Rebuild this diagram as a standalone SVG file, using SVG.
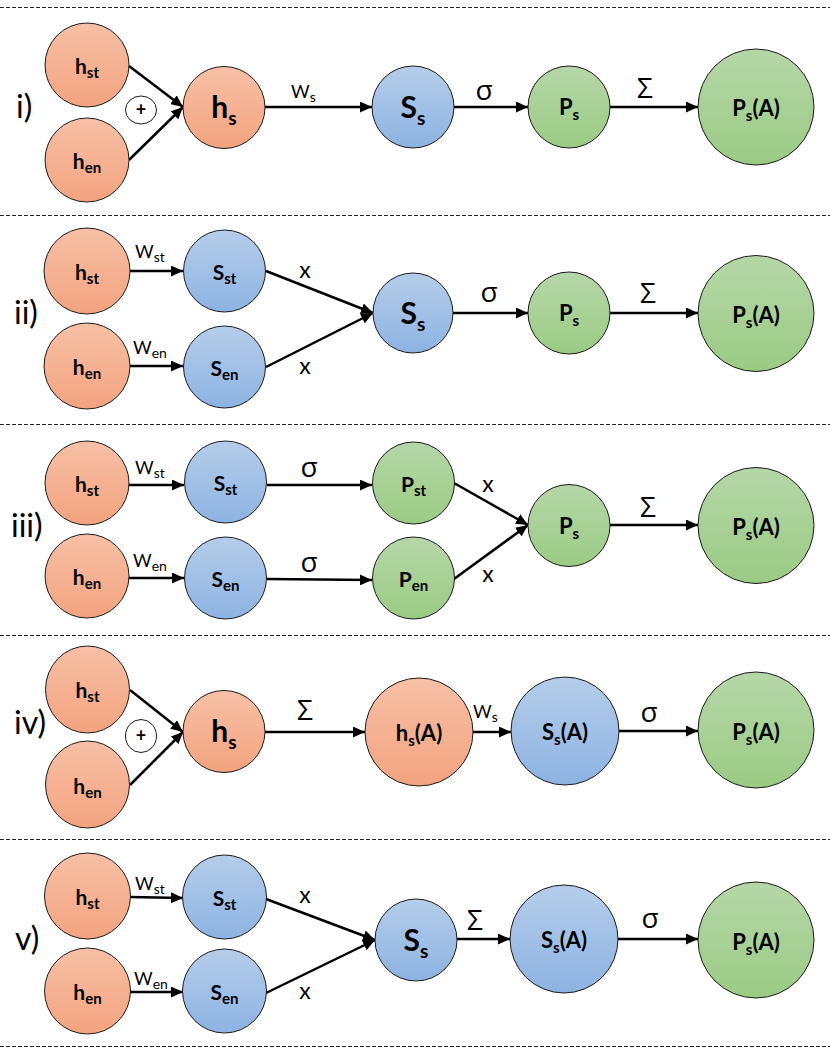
<svg xmlns="http://www.w3.org/2000/svg" width="830" height="1054" viewBox="0 0 830 1054">
<defs>
<linearGradient id="gO" x1="0" y1="0" x2="0" y2="1"><stop offset="0" stop-color="#F7C0A6"/><stop offset="1" stop-color="#F3A37F"/></linearGradient>
<linearGradient id="gB" x1="0" y1="0" x2="0" y2="1"><stop offset="0" stop-color="#B5CDEA"/><stop offset="1" stop-color="#8DB3E2"/></linearGradient>
<linearGradient id="gG" x1="0" y1="0" x2="0" y2="1"><stop offset="0" stop-color="#B6D7A8"/><stop offset="1" stop-color="#9ACB84"/></linearGradient>
<marker id="ah" markerWidth="12" markerHeight="11" refX="12" refY="5.5" orient="auto" markerUnits="userSpaceOnUse"><path d="M0,0 L12,5.5 L0,11 z" fill="#000"/></marker>
<style>
.o{fill:url(#gO);stroke:#1a1a1a;stroke-width:1}
.b{fill:url(#gB);stroke:#1a1a1a;stroke-width:1}
.g{fill:url(#gG);stroke:#1a1a1a;stroke-width:1}
.pc{fill:#fff;stroke:#1a1a1a;stroke-width:1}
.n{font-family:Lato,"Open Sans","DejaVu Sans",sans-serif;font-weight:bold;font-size:21px;fill:#000;text-anchor:middle}
.nb{font-family:Lato,"Open Sans","DejaVu Sans",sans-serif;font-weight:bold;font-size:30px;fill:#000;text-anchor:middle}
.na{font-family:Lato,"Open Sans","DejaVu Sans",sans-serif;font-weight:bold;font-size:22px;fill:#000;text-anchor:middle}
.s14{font-size:15px}
.s19{font-size:19px}
.e{font-family:Lato,"Open Sans","DejaVu Sans",sans-serif;font-size:18px;fill:#000}
.es{font-size:14px}
.gr{font-family:"Open Sans","DejaVu Sans",sans-serif;font-size:28px;fill:#000;text-anchor:middle}
.x{font-family:Lato,"Open Sans",sans-serif;font-size:23px;fill:#000;text-anchor:middle}
.sec{font-family:Lato,"Open Sans",sans-serif;font-size:32px;fill:#000}
.pl{font-family:Lato,"Open Sans",sans-serif;font-weight:bold;font-size:18px;fill:#000;text-anchor:middle}
.c line{stroke:#000;stroke-width:2.5;marker-end:url(#ah)}
.d{stroke:#222;stroke-width:1;stroke-dasharray:4,2}
</style>
</defs>
<rect width="830" height="1054" fill="#fff"/>

<g id="separators">
<line class="d" x1="0" y1="7.5" x2="830" y2="7.5"/>
<line class="d" x1="0" y1="215.5" x2="830" y2="215.5"/>
<line class="d" x1="0" y1="424.5" x2="830" y2="424.5"/>
<line class="d" x1="0" y1="635.5" x2="830" y2="635.5"/>
<line class="d" x1="0" y1="839.5" x2="830" y2="839.5"/>
<line class="d" x1="0" y1="1046.5" x2="830" y2="1046.5"/>
</g>

<g id="section-labels">
<text class="sec" x="16" y="118">i)</text>
<text class="sec" x="14" y="324">ii)</text>
<text class="sec" x="11" y="537">iii)</text>
<text class="sec" x="14" y="734">iv)</text>
<text class="sec" x="15" y="950">v)</text>
</g>

<g class="c" id="connectors">
<line x1="129" y1="66" x2="183" y2="107"/>
<line x1="129" y1="160" x2="183" y2="107"/>
<line x1="265" y1="107" x2="372" y2="107"/>
<line x1="454" y1="107" x2="528" y2="107"/>
<line x1="610" y1="107" x2="698" y2="107"/>

<line x1="130" y1="271" x2="183" y2="271"/>
<line x1="130" y1="366" x2="183" y2="366"/>
<line x1="266" y1="271" x2="373" y2="313"/>
<line x1="266" y1="367" x2="373" y2="313"/>
<line x1="453" y1="313" x2="528" y2="313"/>
<line x1="610" y1="313" x2="698" y2="313"/>

<line x1="129" y1="485" x2="184" y2="485"/>
<line x1="129" y1="578" x2="184" y2="578"/>
<line x1="267" y1="485" x2="372" y2="485"/>
<line x1="267" y1="579" x2="372" y2="580"/>
<line x1="454" y1="483" x2="528" y2="525"/>
<line x1="454" y1="579" x2="528" y2="525"/>
<line x1="610" y1="525" x2="698" y2="525"/>

<line x1="130" y1="690" x2="183" y2="732"/>
<line x1="130" y1="785" x2="183" y2="732"/>
<line x1="265" y1="732" x2="365" y2="732"/>
<line x1="473" y1="732" x2="511" y2="732"/>
<line x1="619" y1="731" x2="698" y2="731"/>

<line x1="130" y1="897" x2="183" y2="898"/>
<line x1="130" y1="992" x2="183" y2="992"/>
<line x1="266" y1="899" x2="375" y2="940"/>
<line x1="266" y1="993" x2="375" y2="940"/>
<line x1="457" y1="939" x2="510" y2="939"/>
<line x1="618" y1="939" x2="698" y2="939"/>
</g>

<g id="edge-labels">
<text class="e" x="291" y="98">W<tspan class="es" dy="4">s</tspan></text>
<text class="gr" x="484" y="100">σ</text>
<text class="gr" x="645" y="98">Σ</text>

<text class="e" x="135" y="258">W<tspan class="es" dy="4">st</tspan></text>
<text class="e" x="133" y="354">W<tspan class="es" dy="4">en</tspan></text>
<text class="x" x="305" y="278">x</text>
<text class="x" x="305" y="374">x</text>
<text class="gr" x="489" y="302">σ</text>
<text class="gr" x="648" y="303">Σ</text>

<text class="e" x="135" y="474">W<tspan class="es" dy="4">st</tspan></text>
<text class="e" x="133" y="567">W<tspan class="es" dy="4">en</tspan></text>
<text class="gr" x="309" y="477">σ</text>
<text class="gr" x="309" y="572">σ</text>
<text class="x" x="488" y="492">x</text>
<text class="x" x="488" y="582">x</text>
<text class="gr" x="648" y="517">Σ</text>

<text class="gr" x="305" y="720">Σ</text>
<text class="e" x="473" y="718">W<tspan class="es" dy="4">s</tspan></text>
<text class="gr" x="649" y="722">σ</text>

<text class="e" x="135" y="890">W<tspan class="es" dy="4">st</tspan></text>
<text class="e" x="134" y="985">W<tspan class="es" dy="4">en</tspan></text>
<text class="x" x="305" y="903">x</text>
<text class="x" x="305" y="999">x</text>
<text class="gr" x="475" y="930">Σ</text>
<text class="gr" x="650" y="928">σ</text>
</g>

<!-- Section i -->
<g id="i-hst"><circle class="o" cx="87" cy="65" r="42"/><text class="n" x="87" y="74">h<tspan class="s14" dy="4">st</tspan></text></g>
<g id="i-hen"><circle class="o" cx="87" cy="160" r="42"/><text class="n" x="87" y="169">h<tspan class="s14" dy="4">en</tspan></text></g>
<g id="i-plus"><ellipse class="pc" cx="141" cy="110" rx="15.5" ry="14"/><text class="pl" x="141" y="116">+</text></g>
<g id="i-hs"><circle class="o" cx="224" cy="107.5" r="41"/><text class="nb" x="224" y="118">h<tspan class="s19" dy="7">s</tspan></text></g>
<g id="i-Ss"><circle class="b" cx="413" cy="107" r="41"/><text class="nb" x="413" y="118">S<tspan class="s19" dy="7">s</tspan></text></g>
<g id="i-Ps"><circle class="g" cx="569" cy="107" r="41"/><text class="na" x="569" y="115">P<tspan class="s14" dy="5">s</tspan></text></g>
<g id="i-PsA"><circle class="g" cx="756" cy="107" r="58"/><text class="na" x="756" y="116">P<tspan class="s14" dy="5">s</tspan><tspan dy="-5">(A)</tspan></text></g>

<!-- Section ii -->
<g id="ii-hst"><circle class="o" cx="87" cy="271" r="43"/><text class="n" x="87" y="280">h<tspan class="s14" dy="4">st</tspan></text></g>
<g id="ii-hen"><circle class="o" cx="87" cy="366" r="43"/><text class="n" x="87" y="375">h<tspan class="s14" dy="4">en</tspan></text></g>
<g id="ii-Sst"><circle class="b" cx="224.5" cy="271" r="41"/><text class="n" x="224.5" y="280">S<tspan class="s14" dy="4">st</tspan></text></g>
<g id="ii-Sen"><circle class="b" cx="224.5" cy="367" r="41"/><text class="n" x="224.5" y="376">S<tspan class="s14" dy="4">en</tspan></text></g>
<g id="ii-Ss"><circle class="b" cx="413" cy="313" r="40"/><text class="nb" x="413" y="324">S<tspan class="s19" dy="7">s</tspan></text></g>
<g id="ii-Ps"><circle class="g" cx="569" cy="313" r="41"/><text class="na" x="569" y="321">P<tspan class="s14" dy="5">s</tspan></text></g>
<g id="ii-PsA"><circle class="g" cx="756" cy="313.5" r="58"/><text class="na" x="756" y="323">P<tspan class="s14" dy="5">s</tspan><tspan dy="-5">(A)</tspan></text></g>

<!-- Section iii -->
<g id="iii-hst"><circle class="o" cx="87" cy="483" r="42"/><text class="n" x="87" y="492">h<tspan class="s14" dy="4">st</tspan></text></g>
<g id="iii-hen"><circle class="o" cx="87" cy="576" r="42"/><text class="n" x="87" y="585">h<tspan class="s14" dy="4">en</tspan></text></g>
<g id="iii-Sst"><circle class="b" cx="225.5" cy="482" r="41"/><text class="n" x="225.5" y="491">S<tspan class="s14" dy="4">st</tspan></text></g>
<g id="iii-Sen"><circle class="b" cx="225.5" cy="578" r="41"/><text class="n" x="225.5" y="587">S<tspan class="s14" dy="4">en</tspan></text></g>
<g id="iii-Pst"><circle class="g" cx="413.5" cy="483" r="41"/><text class="n" x="413.5" y="492">P<tspan class="s14" dy="4">st</tspan></text></g>
<g id="iii-Pen"><circle class="g" cx="413.5" cy="578" r="41"/><text class="n" x="413.5" y="587">P<tspan class="s14" dy="4">en</tspan></text></g>
<g id="iii-Ps"><circle class="g" cx="569" cy="525.5" r="41"/><text class="na" x="569" y="534">P<tspan class="s14" dy="5">s</tspan></text></g>
<g id="iii-PsA"><circle class="g" cx="756" cy="525.5" r="58"/><text class="na" x="756" y="535">P<tspan class="s14" dy="5">s</tspan><tspan dy="-5">(A)</tspan></text></g>

<!-- Section iv -->
<g id="iv-hst"><ellipse class="o" cx="87.5" cy="689.5" rx="42" ry="43.5"/><text class="n" x="87.5" y="698">h<tspan class="s14" dy="4">st</tspan></text></g>
<g id="iv-hen"><ellipse class="o" cx="87.5" cy="784.5" rx="42" ry="43.5"/><text class="n" x="87.5" y="794">h<tspan class="s14" dy="4">en</tspan></text></g>
<g id="iv-plus"><ellipse class="pc" cx="141" cy="736" rx="15.5" ry="16.5"/><text class="pl" x="141" y="742">+</text></g>
<g id="iv-hs"><circle class="o" cx="224" cy="731.5" r="41"/><text class="nb" x="224" y="742">h<tspan class="s19" dy="7">s</tspan></text></g>
<g id="iv-hsA"><circle class="o" cx="419" cy="732" r="54"/><text class="na" x="419" y="741">h<tspan class="s14" dy="5">s</tspan><tspan dy="-5">(A)</tspan></text></g>
<g id="iv-SsA"><circle class="b" cx="565" cy="731" r="54"/><text class="na" x="565" y="740">S<tspan class="s14" dy="5">s</tspan><tspan dy="-5">(A)</tspan></text></g>
<g id="iv-PsA"><circle class="g" cx="756" cy="730" r="58"/><text class="na" x="756" y="740">P<tspan class="s14" dy="5">s</tspan><tspan dy="-5">(A)</tspan></text></g>

<!-- Section v -->
<g id="v-hst"><circle class="o" cx="87.5" cy="896" r="43"/><text class="n" x="87.5" y="905">h<tspan class="s14" dy="4">st</tspan></text></g>
<g id="v-hen"><circle class="o" cx="87.5" cy="991" r="43"/><text class="n" x="87.5" y="1000">h<tspan class="s14" dy="4">en</tspan></text></g>
<g id="v-Sst"><circle class="b" cx="224.5" cy="897" r="42"/><text class="n" x="224.5" y="906">S<tspan class="s14" dy="4">st</tspan></text></g>
<g id="v-Sen"><circle class="b" cx="224.5" cy="991" r="42"/><text class="n" x="224.5" y="1000">S<tspan class="s14" dy="4">en</tspan></text></g>
<g id="v-Ss"><circle class="b" cx="416" cy="940" r="41"/><text class="nb" x="416" y="951">S<tspan class="s19" dy="7">s</tspan></text></g>
<g id="v-SsA"><circle class="b" cx="564" cy="939" r="54"/><text class="na" x="564" y="948">S<tspan class="s14" dy="5">s</tspan><tspan dy="-5">(A)</tspan></text></g>
<g id="v-PsA"><circle class="g" cx="756" cy="940" r="58"/><text class="na" x="756" y="950">P<tspan class="s14" dy="5">s</tspan><tspan dy="-5">(A)</tspan></text></g>
</svg>
